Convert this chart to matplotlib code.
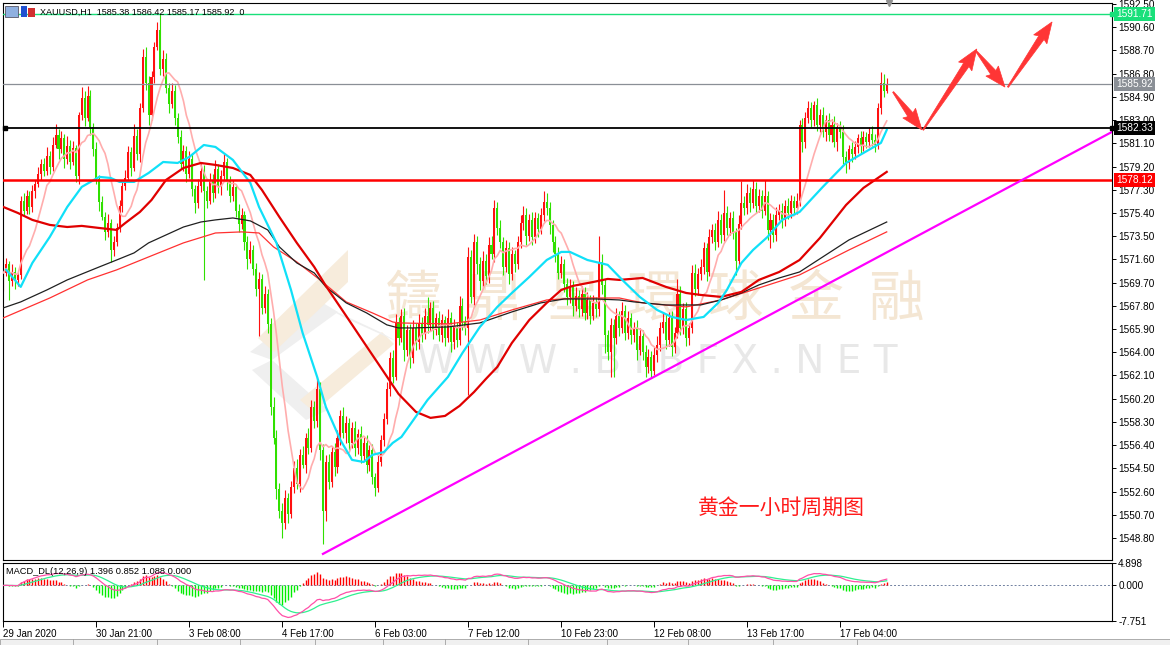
import numpy as np
import pandas as pd
import matplotlib
matplotlib.use("Agg")
import matplotlib.pyplot as plt
from matplotlib.patches import Polygon, Rectangle
from matplotlib.transforms import Affine2D, IdentityTransform

W, H = 1170, 645

# ---- hourly XAUUSD candles (open of each bar = previous close) ----
first_open = 1569.6
closes = [
    1570.5, 1571.2, 1569.8, 1570.6, 1569.9, 1570.3, 1576.4, 1575.6, 1576.8, 1575.9,
    1577.2, 1577.8, 1578.6, 1579.4, 1578.8, 1580.1, 1579.2, 1581.0, 1581.8, 1580.6,
    1581.5, 1579.8, 1580.9, 1579.6, 1580.7, 1578.4, 1583.4, 1584.8, 1583.2, 1585.0,
    1582.4, 1580.6, 1578.2, 1576.3, 1575.1, 1573.8, 1574.6, 1572.4, 1573.0, 1574.2,
    1576.0, 1577.6, 1578.3, 1580.4, 1579.1, 1581.7, 1580.2, 1584.0, 1588.2, 1586.0,
    1583.4, 1586.5, 1589.0, 1590.4, 1587.2, 1588.0, 1585.6, 1584.3, 1585.4, 1583.2,
    1581.6, 1579.4, 1580.5, 1578.6, 1579.8, 1577.4, 1576.2, 1577.6, 1578.8, 1577.2,
    1576.4, 1578.1, 1577.0, 1579.0, 1577.5, 1578.4, 1579.6, 1578.0, 1576.8, 1577.5,
    1575.6, 1574.5, 1575.2, 1573.0, 1571.6, 1572.4, 1570.8, 1569.2, 1570.0, 1567.6,
    1568.8, 1566.3, 1559.5, 1557.0, 1552.8, 1551.0, 1550.0, 1552.1, 1550.8, 1553.0,
    1554.5, 1553.2, 1555.6, 1554.8, 1557.0, 1556.2, 1559.5, 1558.4, 1561.0, 1556.0,
    1551.0, 1555.0, 1553.4, 1555.8, 1554.6, 1557.0, 1558.8, 1557.4, 1558.2, 1556.6,
    1557.8, 1556.2, 1557.3, 1555.5, 1556.6, 1554.8, 1556.0, 1553.8, 1552.9, 1555.0,
    1556.8, 1558.5, 1561.0, 1563.5, 1562.0, 1566.5, 1565.2, 1567.0, 1564.2, 1565.8,
    1563.5, 1566.0, 1564.8, 1566.4, 1565.5, 1567.0, 1566.2, 1567.6, 1565.8, 1566.8,
    1565.4, 1566.6, 1565.2, 1566.8, 1564.8, 1566.1, 1565.0, 1567.8, 1566.5, 1566.0,
    1571.8, 1568.5, 1573.0, 1571.2, 1569.8, 1571.5, 1570.2, 1572.8, 1572.0, 1575.8,
    1574.2, 1573.0, 1571.0, 1572.5, 1570.4, 1572.0, 1571.2, 1573.0, 1574.6, 1575.2,
    1573.5, 1574.8, 1573.4, 1575.0, 1574.1, 1575.2, 1576.3, 1575.8, 1574.4, 1573.0,
    1572.0, 1570.5, 1571.2, 1569.6, 1568.5, 1569.4, 1567.8, 1568.6, 1567.5, 1568.8,
    1567.2, 1568.3, 1567.0, 1568.0, 1567.5, 1571.4, 1569.5, 1565.4, 1564.0, 1566.2,
    1565.2, 1567.0, 1566.0, 1567.4, 1565.6, 1566.8, 1565.4, 1566.0, 1564.2, 1565.3,
    1564.0, 1562.8, 1563.6, 1562.5, 1563.8, 1564.6, 1566.0, 1566.5, 1565.0, 1566.8,
    1564.4, 1565.6, 1568.8, 1566.0, 1567.5, 1565.2, 1566.0, 1570.5, 1569.2, 1570.4,
    1571.0, 1572.5, 1570.6, 1573.4, 1574.0, 1573.0, 1574.8, 1573.6, 1575.4, 1574.2,
    1575.0, 1573.8, 1571.5, 1574.5, 1576.2, 1575.8, 1577.0, 1576.2, 1577.4, 1576.0,
    1576.8, 1575.6, 1576.8, 1574.0, 1574.8, 1573.6, 1575.2, 1575.6, 1574.8, 1576.0,
    1575.4, 1576.4, 1575.8, 1576.4, 1582.6, 1581.2, 1583.2, 1584.0, 1583.0, 1584.2,
    1582.6, 1583.4, 1582.0, 1583.0, 1581.8, 1582.6, 1581.2, 1582.4, 1582.0, 1580.0,
    1579.5, 1580.6, 1580.2, 1580.8, 1581.5, 1580.9, 1581.6, 1581.2, 1581.9, 1581.4,
    1581.0, 1584.0, 1586.0, 1585.38, 1585.92,
]
# wick lengths above / below the body, in tenths of a dollar
wick_up = [
    4, 5, 3, 6, 4, 3, 4, 6, 5, 4,   5, 3, 6, 4, 5, 7, 4, 6, 9, 5,
    6, 4, 8, 5, 6, 3, 3, 9, 6, 8,   5, 4, 6, 3, 5, 4, 7, 3, 5, 4,
    5, 3, 6, 5, 4, 10, 6, 4, 6, 8,  6, 5, 4, 6, 13, 7, 5, 4, 6, 5,
    4, 6, 5, 4, 7, 5, 3, 6, 8, 5,   4, 6, 5, 7, 4, 5, 6, 3, 4, 6,
    3, 5, 6, 4, 5, 7, 4, 5, 6, 4,   6, 4, 5, 8, 6, 5, 7, 6, 4, 5,
    6, 8, 5, 7, 4, 8, 6, 5, 10, 6,  5, 6, 7, 5, 8, 6, 5, 7, 6, 4,
    5, 6, 4, 7, 5, 6, 4, 5, 3, 6,   4, 5, 6, 5, 7, 6, 4, 5, 6, 4,
    5, 6, 4, 7, 5, 6, 15, 5, 6, 4,  6, 5, 4, 7, 5, 6, 4, 8, 6, 5,
    8, 6, 7, 5, 6, 8, 5, 6, 7, 7,   5, 6, 4, 7, 5, 6, 4, 5, 6, 8,
    6, 5, 7, 5, 4, 6, 9, 7, 5, 4,   5, 6, 7, 4, 5, 6, 4, 7, 5, 6,
    5, 6, 4, 7, 5, 21, 6, 5, 4, 6,  5, 6, 4, 7, 5, 6, 4, 5, 6, 7,
    5, 6, 7, 5, 6, 7, 5, 8, 6, 5,   6, 5, 12, 6, 5, 6, 4, 6, 7, 5,
    6, 5, 4, 7, 5, 6, 8, 5, 19, 6,  5, 6, 4, 7, 18, 6, 8, 5, 7, 5,
    6, 5, 13, 4, 6, 5, 7, 5, 6, 5,  6, 5, 4, 6, 4, 6, 5, 6, 5, 4,
    6, 5, 7, 4, 6, 5, 7, 4, 5, 6,   5, 4, 6, 5, 4, 6, 5, 4, 5, 6,
    5, 4, 9, 8, 5,
]
wick_dn = [
    6, 3, 15, 4, 7, 5, 3, 4, 3, 6,  4, 6, 3, 5, 4, 3, 6, 4, 3, 8,
    3, 7, 4, 6, 3, 5, 6, 4, 7, 3,   6, 5, 4, 7, 3, 6, 4, 10, 5, 3,
    4, 5, 3, 4, 7, 3, 5, 6, 3, 5,   8, 4, 5, 3, 5, 6, 4, 7, 3, 6,
    5, 4, 6, 7, 3, 6, 8, 4, 5, 73,  6, 3, 7, 4, 5, 6, 3, 7, 5, 4,
    5, 7, 4, 6, 8, 3, 5, 6, 39, 5,  4, 7, 6, 5, 8, 6, 12, 5, 8, 4,
    5, 4, 6, 3, 7, 5, 4, 6, 5, 8,   27, 8, 6, 4, 7, 5, 6, 4, 8, 6,
    4, 7, 5, 6, 4, 7, 5, 6, 7, 3,   3, 5, 4, 6, 5, 3, 6, 4, 9, 5,
    8, 4, 6, 5, 7, 4, 6, 5, 7, 4,   5, 6, 7, 4, 8, 5, 6, 4, 7, 6,
    55, 5, 6, 8, 7, 4, 6, 5, 4, 6,  6, 5, 7, 4, 8, 5, 6, 4, 5, 6,
    7, 4, 6, 5, 7, 4, 5, 6, 7, 8,   6, 5, 4, 7, 6, 5, 8, 4, 6, 5,
    6, 5, 7, 4, 6, 5, 7, 15, 6, 20, 32, 5, 7, 4, 6, 5, 7, 6, 8, 4,
    6, 8, 5, 6, 4, 6, 5, 4, 7, 5,   7, 5, 4, 6, 5, 7, 6, 4, 6, 5,
    5, 6, 8, 4, 5, 6, 4, 7, 5, 6,   6, 5, 12, 5, 4, 6, 5, 7, 4, 6,
    5, 6, 4, 8, 15, 6, 5, 4, 6, 5,  5, 4, 6, 5, 4, 8, 5, 4, 6, 5,
    5, 6, 4, 7, 5, 6, 4, 7, 5, 6,   8, 5, 6, 4, 5, 6, 4, 5, 4, 5,
    6, 4, 5, 5, 2,
]

# ---- moving averages (bar index, price) ----
cyan_bars = [1, 6, 10, 16, 22, 27, 33, 37, 40, 45, 50, 55, 60, 64, 69, 73, 79, 85, 88, 94,
             99, 103, 108, 111, 116, 120, 124, 127, 131, 134, 137, 146, 153, 158, 164, 170,
             175, 181, 187, 192, 195, 201, 208, 213, 219, 225, 230, 235, 241, 246, 249, 254,
             258, 263, 268, 274, 282, 290, 296, 302, 304]
cyan_vals = [1570.74, 1569.35, 1571.31, 1573.44, 1575.89, 1577.53, 1578.35, 1578.26, 1577.94,
             1577.94, 1578.67, 1579.57, 1579.49, 1579.98, 1580.96, 1580.80, 1579.74, 1577.86,
             1575.89, 1572.95, 1569.10, 1565.58, 1561.98, 1559.52, 1556.82, 1555.19, 1555.02,
             1555.60, 1555.84, 1556.58, 1557.07, 1560.10, 1561.98, 1563.94, 1566.07, 1567.71,
             1568.85, 1570.16, 1571.55, 1572.21, 1572.21, 1571.55, 1571.15, 1569.92, 1568.53,
             1567.46, 1566.89, 1566.64, 1566.89, 1568.04, 1569.10, 1571.31, 1572.37, 1573.44,
             1574.83, 1575.48, 1577.53, 1579.49, 1580.31, 1581.13, 1582.19]
red_bars = [0, 5, 10, 16, 22, 27, 33, 39, 42, 47, 51, 56, 62, 68, 73, 79, 85, 89, 95, 101,
            107, 111, 118, 124, 130, 136, 142, 147, 152, 157, 162, 166, 170, 175, 181, 187,
            192, 196, 203, 208, 212, 220, 228, 235, 240, 247, 254, 260, 267, 274, 281, 290,
            296, 304]
red_vals = [1575.89, 1575.40, 1574.83, 1574.42, 1574.25, 1574.34, 1574.17, 1574.01, 1574.58,
            1575.48, 1576.46, 1578.10, 1579.08, 1579.49, 1579.33, 1579.08, 1578.51, 1577.28,
            1575.07, 1572.95, 1570.98, 1569.43, 1566.97, 1564.84, 1562.72, 1560.59, 1559.12,
            1558.63, 1558.79, 1559.61, 1560.75, 1561.80, 1562.80, 1564.76, 1566.64, 1568.04,
            1569.10, 1569.43, 1569.75, 1570.00, 1569.92, 1570.08, 1569.35, 1568.85, 1568.69,
            1568.53, 1568.94, 1569.92, 1570.57, 1571.55, 1573.35, 1576.05, 1577.45, 1578.76]
black_bars = [0, 6, 15, 22, 33, 39, 45, 50, 56, 62, 68, 73, 79, 85, 91, 95, 101, 107, 111,
              118, 125, 132, 136, 141, 153, 164, 175, 185, 193, 204, 212, 217, 228, 240, 247,
              254, 260, 267, 274, 291, 304]
black_vals = [1567.63, 1568.12, 1569.10, 1569.92, 1570.98, 1571.55, 1572.13, 1572.95, 1573.60,
              1574.25, 1574.66, 1574.83, 1574.99, 1574.75, 1574.01, 1572.62, 1571.31, 1570.49,
              1569.35, 1568.04, 1567.22, 1566.24, 1565.99, 1565.99, 1566.07, 1566.40, 1567.30,
              1568.04, 1568.36, 1568.36, 1568.28, 1568.12, 1567.87, 1567.87, 1568.28, 1568.85,
              1569.51, 1570.08, 1570.57, 1573.19, 1574.66]
thin_bars = [0, 16, 29, 39, 50, 62, 73, 82, 88, 93, 101, 109, 118, 127, 134, 136, 153, 164,
             175, 187, 198, 212, 220, 235, 247, 260, 274, 291, 304]
thin_vals = [1566.81, 1568.44, 1569.92, 1570.74, 1571.80, 1572.95, 1573.76, 1573.85, 1573.76,
             1572.62, 1571.39, 1569.92, 1568.12, 1567.22, 1566.48, 1566.40, 1566.32, 1566.64,
             1567.46, 1568.28, 1568.44, 1568.44, 1568.04, 1567.71, 1568.28, 1569.26, 1570.33,
             1572.37, 1573.85]

date_pos = [0, 32, 64, 96, 128, 160, 192, 224, 256, 288]
date_labels = ["29 Jan 2020", "30 Jan 21:00", "3 Feb 08:00", "4 Feb 17:00", "6 Feb 03:00",
               "7 Feb 12:00", "10 Feb 23:00", "12 Feb 08:00", "13 Feb 17:00", "17 Feb 04:00"]
price_ticks = [1592.50, 1590.60, 1588.70, 1586.80, 1584.90, 1583.00, 1581.10, 1579.20, 1577.30,
               1575.40, 1573.50, 1571.60, 1569.70, 1567.80, 1565.90, 1564.00, 1562.10, 1560.20,
               1558.30, 1556.40, 1554.50, 1552.60, 1550.70, 1548.80]
macd_ticks = [4.898, 0.0, -7.751]

# horizontal levels: price, colour, width
levels = [(1591.71, "#19e07a", 1.0), (1585.92, "#8a8f96", 0.9), (1582.33, "#000000", 1.3),
          (1578.12, "#ff0000", 1.8)]
trend_x = [110.0, 381.5]
trend_y = [1547.5, 1582.03]
# forecast arrows: (bar0, price0, bar1, price1)
arrows = [(306.2, 1585.30, 316.1, 1582.20),
          (316.5, 1582.19, 335.0, 1588.82),
          (334.7, 1588.66, 344.7, 1585.70),
          (345.7, 1585.70, 360.9, 1591.03)]

RED = "#ff1010"
GREEN = "#30e000"
plt.rcParams["font.family"] = ["Liberation Sans", "DejaVu Sans"]

fig = plt.figure(figsize=(W / 100, H / 100), dpi=100)
fig.patch.set_facecolor("white")
pix = Affine2D().scale(1, -1).translate(0, H)

x0, dx = 3.3, 2.906
xl = ((3 - x0) / dx, (1112 - x0) / dx)

ax = fig.add_axes([3 / W, (H - 560) / H, 1109 / W, 557 / H])
ax2 = fig.add_axes([3 / W, (H - 621) / H, 1109 / W, 58 / H])
ax.set_xlim(*xl)
ax.set_ylim(1547.0, 1592.58)
ax2.set_xlim(*xl)
ax2.set_ylim(-7.751, 4.898)

# watermark logo + text
beige = "#f7ecdc"
grey = "#efefef"
for pts, col in [
    ([(250, 352), (318, 300), (338, 312), (272, 360)], grey),
    ([(272, 360), (328, 410), (306, 420), (252, 370)], grey),
    ([(258, 338), (348, 250), (348, 282), (274, 352)], beige),
    ([(300, 400), (382, 332), (394, 344), (314, 412)], beige),
    ([(322, 305), (380, 332), (398, 342), (345, 318)], grey),
]:
    ax.add_patch(Polygon(pts, closed=True, transform=pix, facecolor=col, edgecolor="none", zorder=0.5))
ax.text(655, 300, "鑄  鼎  星  環  球  金  融", transform=pix, ha="center", va="center",
        fontsize=40, color="#f4e6d3", family=["Noto Sans CJK TC", "DejaVu Sans"], zorder=0.6)
ax.text(657, 362, "W W W . B I B F X . N E T", transform=pix, ha="center", va="center",
        fontsize=28, color="#e8e8e8", family="DejaVu Sans", zorder=0.6)

# candles
c = np.array(closes)
o = np.concatenate([[first_open], c[:-1]])
hi = np.maximum(o, c) + np.array(wick_up) / 10
lo = np.minimum(o, c) - np.array(wick_dn) / 10
idx = np.arange(len(c))
col = np.where(c >= o, RED, GREEN)
ax.vlines(idx, lo, hi, colors=col, lw=0.8, zorder=2)
ax.bar(idx, np.maximum(np.abs(c - o), 0.08), bottom=np.minimum(o, c), width=0.7,
       color=col, linewidth=0, zorder=2.1)

# moving averages
ma_fast = pd.Series(c).rolling(10, min_periods=1).mean()
ax.plot(idx, ma_fast, color="#ffadad", lw=1.2, zorder=3)
ax.plot(thin_bars, thin_vals, color="#ff3030", lw=0.9, zorder=3, solid_joinstyle="round")
ax.plot(black_bars, black_vals, color="#202020", lw=0.9, zorder=3, solid_joinstyle="round")
ax.plot(red_bars, red_vals, color="#e00000", lw=1.6, zorder=3, solid_joinstyle="round")
ax.plot(cyan_bars, cyan_vals, color="#10e0f8", lw=1.6, zorder=3, solid_joinstyle="round")

# levels + tags
for p, cl, lw in levels:
    ax.axhline(p, color=cl, lw=lw, zorder=4)
    ax.text(1.004, p, f"{p:.2f}", transform=ax.get_yaxis_transform(), ha="left", va="center",
            fontsize=7.3, color="white", clip_on=False, zorder=10,
            bbox=dict(boxstyle="square,pad=0.2", fc=cl, ec="none"))
for p, cl in ((1591.71, levels[0][1]), (1582.33, "black")):
    ax.plot([1.0], [p], marker="s", ms=3.5, color=cl,
            transform=ax.get_yaxis_transform(), clip_on=False, zorder=6)
ax.plot([0.002], [1582.33], marker="s", ms=3.5, color="black",
        transform=ax.get_yaxis_transform(), clip_on=False, zorder=6)

ax.plot(trend_x, trend_y, color="#ff00ff", lw=1.6, zorder=4)

# tapered arrows built in pixel space
fig.canvas.draw()
for bx0, py0, bx1, py1 in arrows:
    (sx, sy), (ex, ey) = ax.transData.transform([(bx0, py0), (bx1, py1)])
    d = np.array([ex - sx, ey - sy])
    L = np.hypot(*d)
    u = d / L
    n = np.array([-u[1], u[0]])
    hl = min(19, L * 0.4)
    shape = [(0, 0.6), (L - hl, 3.2), (L - hl - 2, 8), (L, 0), (L - hl - 2, -8), (L - hl, -3.2), (0, -0.6)]
    pts = [(sx + a * u[0] + b * n[0], sy + a * u[1] + b * n[1]) for a, b in shape]
    ax.add_patch(Polygon(pts, closed=True, transform=IdentityTransform(), facecolor="#ff3535",
                         edgecolor="#ff3535", lw=0.5, zorder=7))

ax.text(781, 508, "黄金一小时周期图", transform=pix, ha="center", va="center", fontsize=15,
        color="#ff1a1a", family=["Noto Sans CJK SC", "DejaVu Sans"], zorder=8)

# MACD (12, 26, 9)
s = pd.Series(c)
dif = s.ewm(span=12, adjust=False).mean() - s.ewm(span=26, adjust=False).mean()
dea = dif.ewm(span=9, adjust=False).mean()
hist = 2 * (dif - dea)
ax2.vlines(idx, 0, hist, colors=np.where(hist >= 0, "#ff0000", "#00ee00"), lw=1.0, zorder=2)
ax2.axhline(0, color="#7080a0", lw=0.7, ls=(0, (2, 2)), zorder=1)
ax2.plot(idx, dea, color="#30f090", lw=0.9, zorder=3)
ax2.plot(idx, dif, color="#ff4fa8", lw=0.9, zorder=3)
ax2.text(0.003, 0.86, "MACD_DL(12,26,9) 1.396 0.852 1.088 0.000", transform=ax2.transAxes,
         fontsize=6.7, va="center", ha="left", zorder=5)

for a in (ax, ax2):
    for sp in a.spines.values():
        sp.set_color("black")
        sp.set_linewidth(0.8)
    a.yaxis.tick_right()
    a.tick_params(axis="y", direction="out", length=3, width=0.7, labelsize=7.2, pad=1.5)

ax.set_xticks([])
ax.set_yticks(price_ticks)
ax.set_yticklabels([f"{t:.2f}" for t in price_ticks])
ax2.set_yticks(macd_ticks)
ax2.set_yticklabels([f"{t:.3f}" for t in macd_ticks])
ax2.set_xticks(date_pos)
ax2.set_xticklabels(date_labels)
ax2.tick_params(axis="x", direction="out", length=4, width=0.7, labelsize=7, pad=1.5)
for lab in ax2.get_xticklabels():
    lab.set_ha("left")

# header and window chrome
fig.text(40, 12, "XAUUSD,H1  1585.38 1586.42 1585.17 1585.92  0", transform=pix, fontsize=6.5,
         va="center", ha="left")
fig.patches.append(Rectangle((5, 6), 13, 11, transform=pix, fc="#8fb0e0", ec="#556", lw=0.6))
fig.patches.append(Rectangle((21, 6), 6, 11, transform=pix, fc="#2050d0", ec="none"))
fig.patches.append(Rectangle((28, 8), 7, 9, transform=pix, fc="#d03030", ec="none"))
ax.plot([0.799], [1.0], marker="v", ms=4, color="#909090", transform=ax.transAxes,
        clip_on=False, zorder=9)
fig.patches.append(Rectangle((0, 639), W, 6, transform=pix, fc="#f0f0f0", ec="#a0a0a0", lw=0.6))
for sx in (73, 157, 240, 315, 383, 445, 528, 607, 688, 773, 857):
    fig.lines.append(plt.Line2D([sx, sx], [639, 645], transform=pix, color="#a0a0a0", lw=0.6))

fig.savefig("out.png", dpi=100)
